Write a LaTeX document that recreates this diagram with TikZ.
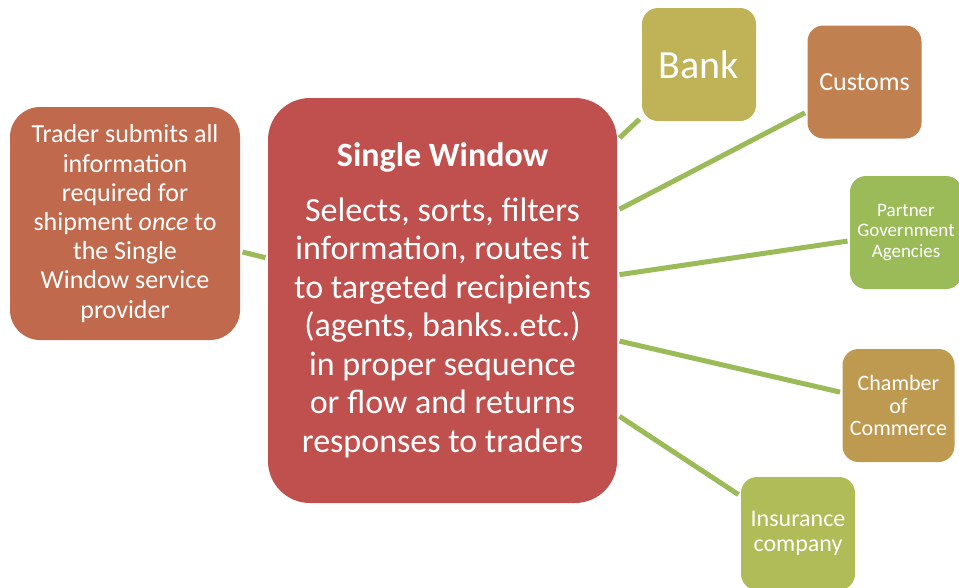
\documentclass[tikz,border=0pt]{standalone}
\usepackage{fontspec}
\setmainfont{Carlito}
\definecolor{swred}{HTML}{C0504D}
\definecolor{traderc}{HTML}{C0694C}
\definecolor{bankc}{HTML}{C0B257}
\definecolor{customsc}{HTML}{C0804F}
\definecolor{pgac}{HTML}{9BBB59}
\definecolor{chamberc}{HTML}{BE9A51}
\definecolor{insurc}{HTML}{B0BC57}
\definecolor{linkgreen}{HTML}{9BBB59}
\begin{document}
\begin{tikzpicture}[x=1pt,y=-1pt,
  box/.style={rectangle, fill=#1, text=white, align=center, inner sep=0pt, outer sep=2.5pt},
  small/.style={minimum width=114pt, minimum height=113pt, rounded corners=16pt},
  link/.style={draw=linkgreen, line width=5pt}]
\useasboundingbox (0,0) rectangle (959,587);
\clip (0,0) rectangle (959,587);

% the hub
\node[box=swred, minimum width=349pt, minimum height=405pt, rounded corners=42pt,
      font=\fontsize{34}{38.5}\selectfont] (sw) at (442.5,300.5)
  {{\bfseries Single Window}\\[16pt]
   Selects, sorts, filters\\information, routes it\\to targeted recipients\\(agents, banks..etc.)\\in proper sequence\\or flow and returns\\responses to traders};

% the trader
\node[box=traderc, minimum width=230pt, minimum height=233pt, rounded corners=30pt,
      font=\fontsize{26}{29.2}\selectfont] (trader) at (125,223.5)
  {Trader submits all\\information\\required for\\shipment \emph{once} to\\the Single\\Window service\\provider};

% recipients
\node[box=bankc, small, font=\fontsize{40}{44}\selectfont] (bank) at (699,64.5) {Bank};
\node[box=customsc, small, font=\fontsize{26}{30}\selectfont] (customs) at (864.5,82) {Customs};
\node[box=pgac, small, minimum width=112pt, font=\fontsize{19}{20.5}\selectfont] (pga) at (906,232.5)
  {Partner\\Government\\Agencies};
\node[box=chamberc, small, minimum width=112pt, font=\fontsize{22}{22.5}\selectfont] (chamber) at (898.5,405.5)
  {Chamber\\of\\Commerce};
\node[box=insurc, small, font=\fontsize{24}{25}\selectfont] (insur) at (798,533.5)
  {Insurance\\company};

% connectors
\draw[link] (trader) -- (sw);
\draw[link] (sw) -- (bank);
\draw[link] (sw) -- (customs);
\draw[link] (sw) -- (pga);
\draw[link] (sw) -- (chamber);
\draw[link] (sw) -- (insur);
\end{tikzpicture}
\end{document}
